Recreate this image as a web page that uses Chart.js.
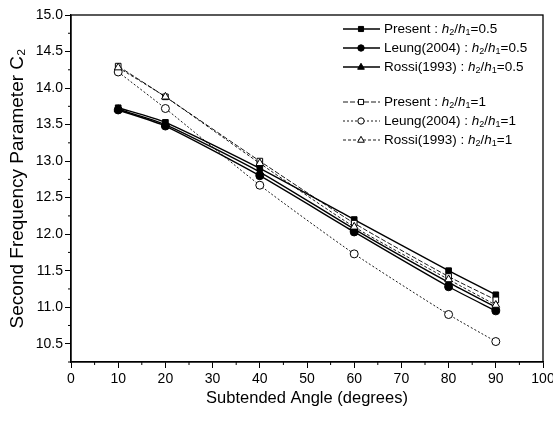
<!DOCTYPE html>
<html>
<head>
<meta charset="utf-8">
<script src="https://cdn.jsdelivr.net/npm/chart.js@4.4.0/dist/chart.umd.min.js"></script>
<style>
  html, body { margin: 0; padding: 0; background: #fff; }
  #wrap { width: 553px; height: 421px; }
</style>
</head>
<body>
<div id="wrap"><canvas id="chart" width="553" height="421"></canvas></div>
<script>
// Data
var angles = [10, 20, 40, 60, 80, 90];
var presentHalf = [13.73, 13.53, 12.90, 12.20, 11.50, 11.17];
var leungHalf   = [13.70, 13.48, 12.80, 12.03, 11.28, 10.95];
var rossiHalf   = [13.71, 13.50, 12.85, 12.07, 11.34, 11.00];
var presentOne  = [14.30, 13.88, 13.00, 12.15, 11.42, 11.10];
var leungOne    = [14.22, 13.72, 12.67, 11.73, 10.90, 10.53];
var rossiOne    = [14.28, 13.88, 12.97, 12.10, 11.38, 11.03];

var seriesNames = ['Present', 'Leung(2004)', 'Rossi(1993)', 'Present', 'Leung(2004)', 'Rossi(1993)'];
var ratioLabels = ['0.5', '0.5', '0.5', '1', '1', '1'];
var yTicks = [10.5, 11.0, 11.5, 12.0, 12.5, 13.0, 13.5, 14.0, 14.5, 15.0];
var xTicks = [0, 10, 20, 30, 40, 50, 60, 70, 80, 90, 100];

var FONT = '"Liberation Sans", Arial, sans-serif';

function toPoints(ys) {
    return angles.map(function(a, i) { return { x: a, y: ys[i] }; });
}

// marker / line style per series
var styles = [
    { pt: 'rect',     fill: '#000', dash: [],     w: 1.4, r: 4 },
    { pt: 'circle',   fill: '#000', dash: [],     w: 1.4, r: 4 },
    { pt: 'triangle', fill: '#000', dash: [],     w: 1.4, r: 4.5 },
    { pt: 'rect',     fill: '#fff', dash: [5, 2], w: 0.9, r: 4 },
    { pt: 'circle',   fill: '#fff', dash: [2, 2], w: 0.9, r: 4 },
    { pt: 'triangle', fill: '#fff', dash: [3, 2], w: 0.9, r: 4.5 }
];
var allData = [presentHalf, leungHalf, rossiHalf, presentOne, leungOne, rossiOne];

var datasets = allData.map(function(d, i) {
    var s = styles[i];
    return {
        label: seriesNames[i] + ' : h2/h1=' + ratioLabels[i],
        data: toPoints(d),
        borderColor: '#000',
        borderWidth: s.w,
        borderDash: s.dash,
        pointStyle: s.pt,
        pointRadius: s.r,
        pointBackgroundColor: s.fill,
        pointBorderColor: '#000',
        pointBorderWidth: 1,
        tension: 0.2,
        fill: false
    };
}).reverse(); // draw filled markers last

// box, minor ticks and the legend with subscripts
var extras = {
    id: 'extras',
    afterDraw: function(chart) {
        var c = chart.ctx, a = chart.chartArea;
        var xs = chart.scales.x, ys = chart.scales.y;
        c.save();
        c.strokeStyle = '#000';
        c.lineWidth = 1.3;
        c.setLineDash([]);
        c.strokeRect(a.left, a.top, a.right - a.left, a.bottom - a.top);

        // minor ticks
        c.lineWidth = 1;
        c.beginPath();
        for (var v = 5; v < 100; v += 10) {
            var px = xs.getPixelForValue(v);
            c.moveTo(px, a.bottom); c.lineTo(px, a.bottom + 3);
        }
        for (var w = 10.25; w < 15; w += 0.5) {
            var py = ys.getPixelForValue(w);
            c.moveTo(a.left, py); c.lineTo(a.left - 3, py);
        }
        c.stroke();

        // legend
        var rows = [29, 48, 67, 102, 121, 140];
        for (var i = 0; i < 6; i++) {
            var s = styles[i], y = rows[i];
            c.setLineDash(s.dash);
            c.lineWidth = s.w;
            c.beginPath();
            c.moveTo(343, y); c.lineTo(380, y);
            c.stroke();
            c.setLineDash([]);
            c.lineWidth = 1;
            c.fillStyle = s.fill;
            drawMarker(c, s.pt, 361, y, s.r - 0.8);

            c.fillStyle = '#000';
            c.textBaseline = 'middle';
            c.font = '13.5px ' + FONT;
            var x = 384;
            var t = seriesNames[i] + ' : ';
            c.fillText(t, x, y); x += c.measureText(t).width;
            x = italicSub(c, 'h', '2', x, y);
            c.font = '13.5px ' + FONT;
            c.fillText('/', x, y); x += c.measureText('/').width;
            x = italicSub(c, 'h', '1', x, y);
            c.font = '13.5px ' + FONT;
            c.fillText('=' + ratioLabels[i], x, y);
        }
        c.restore();
    }
};

function italicSub(c, base, sub, x, y) {
    c.font = 'italic 13.5px ' + FONT;
    c.fillText(base, x, y); x += c.measureText(base).width;
    c.font = '9px ' + FONT;
    c.fillText(sub, x, y + 4); x += c.measureText(sub).width;
    return x;
}

function drawMarker(c, type, x, y, r) {
    c.beginPath();
    if (type === 'rect') {
        c.rect(x - r * 0.8, y - r * 0.8, r * 1.6, r * 1.6);
    } else if (type === 'circle') {
        c.arc(x, y, r, 0, Math.PI * 2);
    } else {
        c.moveTo(x, y - r); c.lineTo(x + r * 0.9, y + r * 0.6); c.lineTo(x - r * 0.9, y + r * 0.6); c.closePath();
    }
    c.fill();
    c.stroke();
}

var ctx = document.getElementById('chart').getContext('2d');
var chart = new Chart(ctx, {
    type: 'line',
    data: { datasets: datasets },
    options: {
        responsive: false,
        animation: false,
        layout: { padding: { top: 15, right: 0, left: 0, bottom: 9 } },
        plugins: { legend: { display: false }, tooltip: { enabled: false } },
        scales: {
            x: {
                type: 'linear', min: 0, max: 100,
                afterBuildTicks: function(s) { s.ticks = xTicks.map(function(v) { return { value: v }; }); },
                afterFit: function(s) { s.height = 50; s.paddingRight = 10; },
                grid: { drawOnChartArea: false, tickLength: 6, color: '#000', lineWidth: 1 },
                border: { color: '#000', width: 1.3 },
                ticks: { color: '#000', font: { family: FONT, size: 14 }, padding: 3, maxRotation: 0 },
                title: { display: true, text: 'Subtended Angle (degrees)', color: '#000', font: { family: FONT, size: 16.5 }, padding: { top: 2 } }
            },
            y: {
                type: 'linear', min: 10.25, max: 15,
                afterBuildTicks: function(s) { s.ticks = yTicks.map(function(v) { return { value: v }; }); },
                afterFit: function(s) { s.width = 71; },
                grid: { drawOnChartArea: false, tickLength: 6, color: '#000', lineWidth: 1 },
                border: { color: '#000', width: 1.3 },
                ticks: { color: '#000', font: { family: FONT, size: 14 }, padding: 2,
                         callback: function(v) { return Number(v).toFixed(1); } },
                title: { display: true, text: 'Second Frequency Parameter C\u2082', color: '#000', font: { family: FONT, size: 19 }, padding: { top: 6, bottom: 0 } }
            }
        }
    },
    plugins: [extras]
});
</script>
</body>
</html>
